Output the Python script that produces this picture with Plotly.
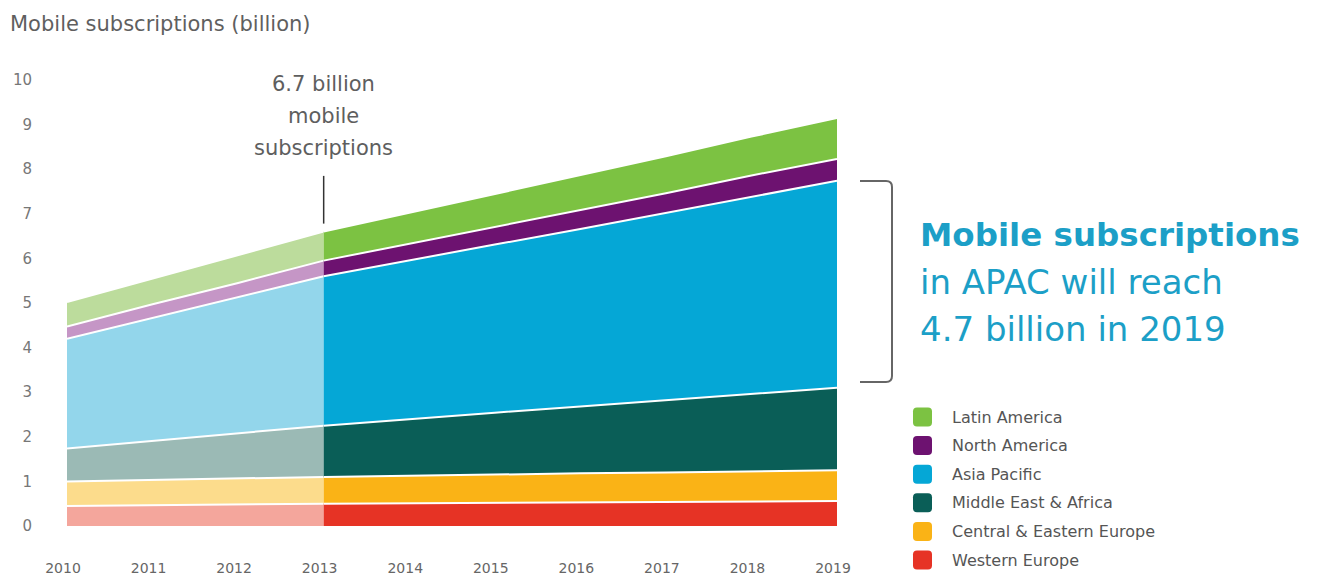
import plotly.graph_objects as go

# ---------------- data ----------------
years = [2010, 2011, 2012, 2013, 2014, 2015, 2016, 2017, 2018, 2019]
series_names = ["Western Europe", "Central & Eastern Europe", "Middle East & Africa",
                "Asia Pacific", "North America", "Latin America"]
western_europe = [0.45, 0.47, 0.48, 0.50, 0.51, 0.52, 0.53, 0.54, 0.55, 0.56]
central_eastern_europe = [0.55, 0.56, 0.58, 0.60, 0.62, 0.63, 0.65, 0.66, 0.68, 0.69]
middle_east_africa = [0.74, 0.88, 1.01, 1.15, 1.27, 1.39, 1.50, 1.62, 1.74, 1.85]
asia_pacific = [2.46, 2.76, 3.06, 3.35, 3.56, 3.77, 3.98, 4.20, 4.42, 4.64]
north_america = [0.27, 0.30, 0.32, 0.35, 0.37, 0.40, 0.42, 0.44, 0.47, 0.49]
latin_america = [0.55, 0.58, 0.62, 0.65, 0.69, 0.74, 0.78, 0.83, 0.87, 0.92]
last_actual_year = 2013
y_ticks = [0, 1, 2, 3, 4, 5, 6, 7, 8, 9, 10]

series_values = [western_europe, central_eastern_europe, middle_east_africa,
                 asia_pacific, north_america, latin_america]
forecast_colors = ["#e63325", "#fab316", "#0a5e57", "#05a7d6", "#6d1270", "#7cc242"]
history_colors = ["#f4a69c", "#fcdc8c", "#9bbab5", "#93d6eb", "#c596c6", "#bcdc9c"]

# ---------------- layout geometry (pixels) ----------------
W, H = 1322, 576
L, R, T, B = 67, 837, 80, 526
PW, PH = R - L, B - T


def px(x):
    return (x - L) / PW


def py(y):
    return (B - y) / PH


fig = go.Figure()

split = years.index(last_actual_year)
for name, vals, hc, fc in zip(series_names, series_values, history_colors, forecast_colors):
    fig.add_trace(go.Scatter(
        x=years[:split + 1], y=vals[:split + 1], name=name, stackgroup="hist",
        mode="lines", line=dict(color="white", width=2), fillcolor=hc,
        showlegend=False, hoverinfo="skip"))
    fig.add_trace(go.Scatter(
        x=years[split:], y=vals[split:], name=name, stackgroup="fore",
        mode="lines", line=dict(color="white", width=2), fillcolor=fc,
        showlegend=False))

FONT = "DejaVu Sans"
shapes = []
annotations = []

# pointer line at 2013
shapes.append(dict(type="line", xref="x", yref="y", x0=last_actual_year, x1=last_actual_year,
                   y0=6.78, y1=7.85, line=dict(color="#333333", width=1.5)))

for txt, ypix in [("6.7 billion", 84), ("mobile", 116), ("subscriptions", 148)]:
    annotations.append(dict(text=txt, xref="x", yref="paper", x=last_actual_year, y=py(ypix),
                            xanchor="center", yanchor="middle", showarrow=False,
                            font=dict(family=FONT, size=21, color="#5e5e5e")))

# title
annotations.append(dict(text="Mobile subscriptions (billion)", xref="paper", yref="paper",
                        x=px(8), y=py(24), xanchor="left", yanchor="middle", showarrow=False,
                        font=dict(family=FONT, size=21, color="#5f5f5f")))

# bracket
def P(x, y):
    return f"{px(x):.5f},{py(y):.5f}"


bx0, bx1, by0, by1, rr = 860, 892, 181, 382, 6
bracket = (f"M {P(bx0, by0)} L {P(bx1 - rr, by0)} Q {P(bx1, by0)} {P(bx1, by0 + rr)} "
           f"L {P(bx1, by1 - rr)} Q {P(bx1, by1)} {P(bx1 - rr, by1)} L {P(bx0, by1)}")
shapes.append(dict(type="path", xref="paper", yref="paper", path=bracket,
                   line=dict(color="#666666", width=2)))

# big callout text
callout = [("<b>Mobile subscriptions</b>", 235, 32.5), ("in APAC will reach", 282, 34),
           ("4.7 billion in 2019", 329, 34)]
for txt, ypix, sz in callout:
    annotations.append(dict(text=txt, xref="paper", yref="paper", x=px(918), y=py(ypix),
                            xanchor="left", yanchor="middle", showarrow=False,
                            font=dict(family=FONT, size=sz, color="#1c9fc7")))

# legend (top: Latin America ... bottom: Western Europe)
def rrect(x0, y0, x1, y1, r):
    return (f"M {P(x0 + r, y0)} L {P(x1 - r, y0)} Q {P(x1, y0)} {P(x1, y0 + r)} "
            f"L {P(x1, y1 - r)} Q {P(x1, y1)} {P(x1 - r, y1)} L {P(x0 + r, y1)} "
            f"Q {P(x0, y1)} {P(x0, y1 - r)} L {P(x0, y0 + r)} Q {P(x0, y0)} {P(x0 + r, y0)} Z")


for i, idx in enumerate(reversed(range(len(series_names)))):
    cy = 417 + i * 28.6
    shapes.append(dict(type="path", xref="paper", yref="paper",
                       path=rrect(913, cy - 9.5, 932, cy + 9.5, 4),
                       fillcolor=forecast_colors[idx], line=dict(width=0)))
    annotations.append(dict(text=series_names[idx], xref="paper", yref="paper",
                            x=px(950), y=py(cy), xanchor="left", yanchor="middle",
                            showarrow=False, font=dict(family=FONT, size=16, color="#555555")))

fig.update_layout(
    width=W, height=H,
    margin=dict(l=L, r=W - R, t=T, b=H - B, pad=0, autoexpand=False),
    paper_bgcolor="white", plot_bgcolor="white",
    shapes=shapes, annotations=annotations,
    showlegend=False,
    font=dict(family=FONT, color="#666666"),
    xaxis=dict(range=[years[0], years[-1]], tickvals=years, ticktext=[str(y) for y in years],
               showgrid=False, zeroline=False, showline=False, ticks="", automargin=False,
               tickfont=dict(family=FONT, size=14, color="#666666"), ticklabelstandoff=32,
               ticklabelshift=-4, fixedrange=True),
    yaxis=dict(range=[0, 10], tickvals=y_ticks, showgrid=False, zeroline=False, showline=False,
               ticks="", automargin=False, tickfont=dict(family=FONT, size=15, color="#777777"),
               ticklabelstandoff=34, fixedrange=True),
)

fig.write_html("out.html")
